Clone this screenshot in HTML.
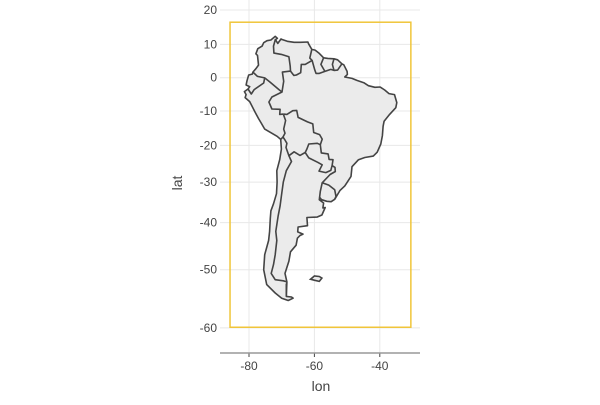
<!DOCTYPE html>
<html><head><meta charset="utf-8"><style>
body{margin:0;background:#fff;font-family:"Liberation Sans",sans-serif}
</style></head><body>
<svg id="chart" width="600" height="400">
<g id="grid"></g>
<g id="map"></g>
<g id="axes"></g>
<text x="321" y="391" text-anchor="middle" font-size="14" fill="#444">lon</text>
<text x="182" y="183" text-anchor="middle" font-size="14" fill="#444" transform="rotate(-90 182 183)">lat</text>
</svg>
<script>
const xTicks=[-80,-60,-40];
const yTicks=[20,10,0,-10,-20,-30,-40,-50,-60];
const bboxLon=[-85.8,-30.5];
const bboxLat=[-59.9,16.5];
const coast=[[-77.3,8.7],[-76,9.5],[-75.5,10.5],[-74.5,11.1],[-73.3,11.3],[-72,12.4],[-71.3,11.8],[-71.9,11.4],[-71.6,10.9],[-71.2,10.3],[-70.2,11.6],[-69.8,11.4],[-68.3,10.9],[-66.2,10.6],[-64.3,10.6],[-62,10.7],[-61.8,10.2],[-60.8,8.5],[-59.8,8.3],[-58.5,7.3],[-57.2,6],[-55.9,5.8],[-54,5.7],[-52.9,5.4],[-51.6,4.2],[-51,3.9],[-50,1.9],[-49.9,1],[-50.7,0.2],[-48.5,-0.2],[-47,-0.8],[-44.9,-1.5],[-43.5,-2.4],[-41.5,-2.9],[-39.9,-2.8],[-38.5,-3.7],[-37.2,-4.8],[-35.5,-5.1],[-34.8,-7.5],[-35.1,-9],[-37,-11],[-38.7,-13],[-39,-14.5],[-39.2,-17.2],[-39.7,-19.6],[-40.8,-21.9],[-42,-23],[-44.6,-23.4],[-46.5,-24],[-48.5,-25.9],[-48.8,-28.5],[-50.7,-31],[-52.2,-32.2],[-53.8,-34.4],[-54.9,-35],[-56.2,-34.9],[-57.8,-34.5],[-58.4,-33.9],[-58.5,-34.5],[-57.2,-35.3],[-57.4,-36.5],[-56.7,-36.4],[-57.7,-38.2],[-59.2,-38.7],[-62.3,-38.8],[-62.1,-40.7],[-65,-41],[-65.1,-42.1],[-63.5,-42.6],[-64.4,-42.9],[-65.2,-43.5],[-65.6,-45],[-67.3,-46.4],[-67.8,-48.3],[-69,-50.7],[-68.4,-52.3],[-68.6,-54.9],[-67,-55],[-66.5,-55.2],[-68,-55.6],[-70,-55.2],[-72,-54.3],[-74.6,-52.8],[-75.5,-50],[-75.2,-47],[-74,-44],[-73.7,-42],[-73.5,-39],[-73.3,-37.2],[-72.5,-35.5],[-71.6,-33],[-71.4,-30],[-71.5,-27],[-70.6,-24],[-70.1,-21],[-70.3,-18.3],[-71.4,-17.4],[-75.2,-15.3],[-76.3,-13.5],[-77.1,-12.2],[-78.1,-10.4],[-79.8,-7.2],[-81.2,-6],[-80.9,-5.1],[-81.4,-4.2],[-80.3,-3.4],[-79.8,-2.7],[-80.9,-2.2],[-80.6,-0.9],[-80.1,0.8],[-79,1.1],[-78.8,1.7],[-77.9,2.7],[-77.1,3.8],[-77.4,6.7],[-77.9,7.2],[-77.3,8.7]];
const falklands=[[-61.2,-51.8],[-60,-51.2],[-58.5,-51.3],[-57.7,-51.6],[-58.5,-52.2],[-59.9,-52],[-61.2,-51.8]];
const borders=[
[[-71.9,11.6],[-72.5,9.5],[-72.4,7.4],[-70.1,7],[-67.8,6.3],[-67.4,3.5],[-67.3,2],[-69.8,1.7],[-69.4,-1.1],[-69.9,-4.3],[-70.7,-3.7],[-73.6,-1.3],[-75.2,-0.05],[-77.4,0.4],[-78.8,1.7]],
[[-67.3,2],[-66.3,0.7],[-65.5,0.8],[-64.2,1.5],[-64,4],[-62.8,4],[-60.7,5.2],[-61.4,5.9],[-60.8,8.5]],
[[-60.7,5.2],[-59.9,2.4],[-59.5,1.3],[-58.5,1.3],[-56.8,1.9],[-55,2.5],[-54,2.2],[-52.9,2.3],[-51.6,4.2]],
[[-57.2,6],[-58,4],[-56.8,1.9]],
[[-54,5.7],[-54.5,4],[-54,2.2]],
[[-80.3,-3.4],[-79.3,-4.9],[-78.4,-3.6],[-75.5,-1.6],[-75.2,-0.05]],
[[-69.9,-4.3],[-73,-5.8],[-73.9,-7.3],[-73,-9.4],[-70.5,-9.5],[-70.6,-11],[-69.5,-10.9]],
[[-69.5,-10.9],[-68.8,-12.8],[-69.4,-15.3],[-69,-16.5],[-69.6,-17.6],[-69.1,-18.3],[-68.4,-19.4],[-68.7,-20.6],[-67.8,-22.9],[-66.2,-21.8],[-64.4,-22.8],[-62.8,-22],[-62.3,-21],[-61.7,-19.6],[-59.1,-19.4],[-58.2,-19.8],[-57.6,-18.2],[-58.4,-16.9],[-60.2,-16.3],[-60.5,-13.8],[-62.1,-13.2],[-65,-11.9],[-65.4,-9.8],[-66.6,-9.9],[-68.4,-11],[-69.5,-10.9]],
[[-69.6,-17.6],[-70.3,-18.3]],
[[-67.8,-22.9],[-67,-24.5],[-68.6,-27],[-69.5,-30],[-70,-33],[-70.5,-36],[-71.1,-38.5],[-71.8,-42],[-71.5,-44],[-72,-47],[-72.5,-49],[-73.2,-50.7],[-72,-51.9],[-69.5,-52.1],[-68.4,-52.3]],
[[-68.6,-52.6],[-68.6,-54.9]],
[[-62.8,-22],[-61.7,-23.5],[-59,-24.7],[-57.6,-25.4],[-58.6,-27.1],[-56.5,-27.5],[-55,-26.9],[-54.6,-25.6],[-54.3,-24],[-55.5,-23.9],[-55.8,-22.4],[-57.9,-22.1],[-58.2,-19.8]],
[[-54.6,-25.6],[-53.7,-26.1],[-53.6,-27.2],[-55.2,-28],[-57.6,-30.2],[-55.6,-30.8],[-53.8,-32],[-53.4,-33.7],[-53.8,-34.4]],
[[-57.6,-30.2],[-58.2,-32.4],[-58.4,-33.9]]
];
const NS='http://www.w3.org/2000/svg';
function sx(lon){return 249+(lon+80)*3.27;}
function sy(lat){return 77.7-190*Math.log(Math.tan(Math.PI/4+lat*Math.PI/360));}
function mk(tag,attrs,parent){const e=document.createElementNS(NS,tag);for(const k in attrs)e.setAttribute(k,attrs[k]);parent.appendChild(e);return e;}
function pts(a){return a.map(p=>sx(p[0]).toFixed(1)+','+sy(p[1]).toFixed(1)).join(' ');}
const grid=document.getElementById('grid'),map=document.getElementById('map'),axes=document.getElementById('axes');
xTicks.forEach(t=>{
  const l=mk('line',{x1:sx(t),x2:sx(t),y1:0,y2:353,stroke:'#e8e8e8','stroke-width':1},grid);
  
  
  const tk=mk('line',{x1:sx(t),x2:sx(t),y1:353,y2:357,stroke:'#444'},axes);
  
  
  const tx=mk('text',{x:sx(t),y:370,'text-anchor':'middle','font-size':12,fill:'#444'},axes);
  tx.textContent=t;
  
  
});
yTicks.forEach(t=>{
  const l=mk('line',{x1:220,x2:420,y1:sy(t),y2:sy(t),stroke:'#e8e8e8','stroke-width':1},grid);
  
  
  const tx=mk('text',{x:217,y:sy(t)+4,'text-anchor':'end','font-size':12,fill:'#444'},axes);
  tx.textContent=t;
  
  
});
const ax=mk('line',{x1:220,x2:420,y1:353,y2:353,stroke:'#999','stroke-width':1.5},axes);


const land=mk('polygon',{points:pts(coast),fill:'#ebebeb',stroke:'#444','stroke-width':1.6,'stroke-linejoin':'round'},map);


const fk=mk('polygon',{points:pts(falklands),fill:'#ebebeb',stroke:'#444','stroke-width':1.6},map);


borders.forEach(b=>{
  const pl=mk('polyline',{points:pts(b),fill:'none',stroke:'#444','stroke-width':1.6,'stroke-linejoin':'round'},map);
  
  
});
const bx=mk('rect',{x:sx(bboxLon[0]),y:sy(bboxLat[1]),width:sx(bboxLon[1])-sx(bboxLon[0]),height:sy(bboxLat[0])-sy(bboxLat[1]),fill:'none',stroke:'#f0c53a','stroke-width':1.5},map);


</script>
</body></html>
